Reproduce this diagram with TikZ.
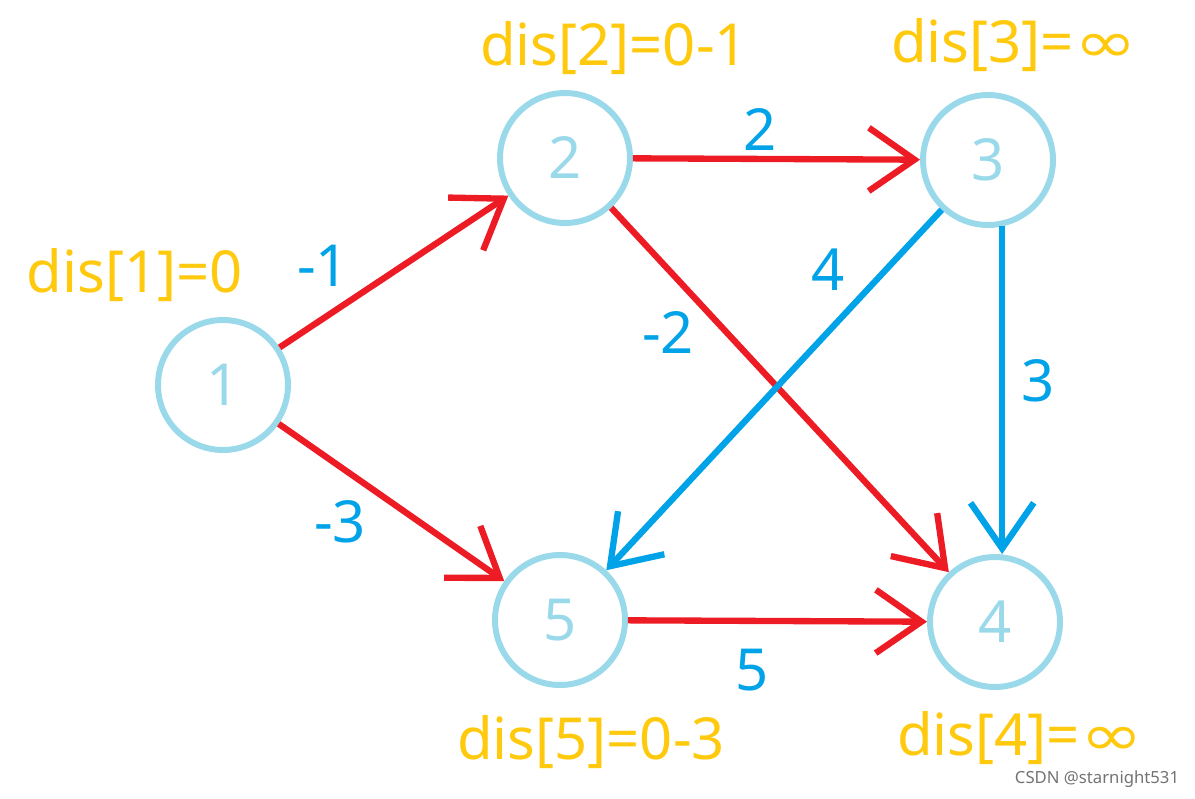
\documentclass[tikz,border=0pt]{standalone}
\usepackage{fontspec}
\setmainfont{Noto Sans}
\newfontfamily\dejavu{DejaVu Sans}
\usetikzlibrary{arrows.meta}
\definecolor{nodeblue}{RGB}{153,217,234}
\definecolor{edgered}{RGB}{237,28,36}
\definecolor{edgeblue}{RGB}{0,162,232}
\definecolor{disgold}{RGB}{255,201,14}
\newcommand{\infsym}{{\dejavu\scalebox{1.3}[1]{∞}}}

\begin{document}
\begin{tikzpicture}[x=0.02cm, y=-0.02cm,
    vertex/.style={circle, draw=nodeblue, line width=3.4pt,
                   minimum size=2.6cm, inner sep=0pt, text=nodeblue,
                   font=\fontsize{33}{36}\selectfont},
    redge/.style={draw=edgered, line width=3.6pt,
                  -{Straight Barb[length=26pt, width=36pt]}},
    bedge/.style={draw=edgeblue, line width=3.6pt,
                  -{Straight Barb[length=26pt, width=36pt]}},
    wt/.style={text=edgeblue, font=\fontsize{33}{36}\selectfont},
    dist/.style={text=disgold, inner sep=0pt,
                 font=\fontsize{33}{36}\selectfont}
  ]
  \useasboundingbox (0,0) rectangle (1195,798);

  \node[vertex] (n1) at (223, 385) {1};
  \node[vertex] (n2) at (565, 158) {2};
  \node[vertex] (n3) at (988, 160) {3};
  \node[vertex] (n4) at (995, 622) {4};
  \node[vertex] (n5) at (560, 620) {5};

  \draw[redge] (n1) -- (n2);
  \draw[redge] (n1) -- (n5);
  \draw[redge] (n2) -- (n3);
  \draw[redge] (n2) -- (n4);
  \draw[bedge] (n3) -- (n5);
  \draw[bedge] (n3.-78) -- (n3.-78 |- n4.north);
  \draw[redge] (n5) -- (n4);

  \node[wt] (w12) at (323, 266) {-1};
  \node[wt] (w15) at (340, 522) {-3};
  \node[wt] (w23) at (760, 130) {2};
  \node[wt] (w24) at (668, 333) {-2};
  \node[wt] (w35) at (828, 270) {4};
  \node[wt] (w34) at (1038, 381) {3};
  \node[wt] (w54) at (752, 670) {5};

  \node[dist] (d1) at (135, 275) {dis[1]=0};
  \node[dist] (d2) at (614, 48) {dis[2]=0-1};
  \node[dist] (d3) at (1014, 45) {dis[3]=\infsym};
  \node[dist] (d4) at (1020, 738) {dis[4]=\infsym};
  \node[dist] (d5) at (591, 742) {dis[5]=0-3};

  \node[text=black!55, inner sep=1pt, font=\fontsize{9.5}{10}\selectfont]
    (mark) at (1097, 779) {CSDN @starnight531};
\end{tikzpicture}
\end{document}
